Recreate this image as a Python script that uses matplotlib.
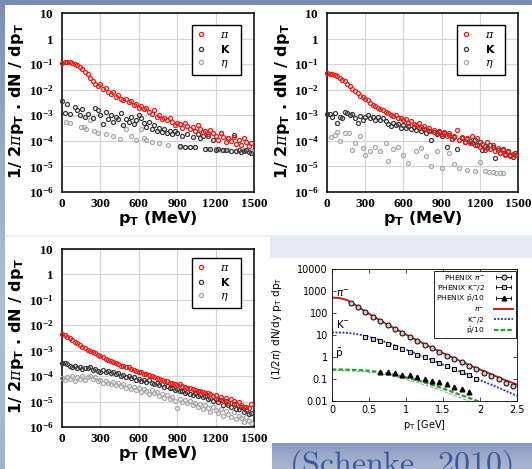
import numpy as np
import matplotlib
matplotlib.use("Agg")
import matplotlib.pyplot as plt
from matplotlib.lines import Line2D
from matplotlib.patches import Rectangle
from matplotlib.colors import LinearSegmentedColormap
from matplotlib.font_manager import FontProperties
from matplotlib.legend_handler import HandlerLine2D
from matplotlib.ticker import LogLocator, NullLocator, NullFormatter

plt.rcParams["mathtext.fontset"] = "custom"
plt.rcParams["mathtext.rm"] = "Liberation Serif:bold"
plt.rcParams["mathtext.sf"] = "DejaVu Sans:bold"
plt.rcParams["mathtext.bf"] = "DejaVu Sans:bold"
plt.rcParams["mathtext.it"] = "DejaVu Serif:italic"

# ---------------------------------------------------------------- data
# common 20 MeV binning of the simulated spectra
pt_bins = np.arange(0, 1500, 20)

# panel A
a_pi = [0.11, 0.126, 0.126, 0.117, 0.112, 0.10, 0.089, 0.076, 0.063, 0.050,
        0.040, 0.030, 0.022, 0.016, 0.014, 0.016, 0.011, 0.012, 0.0083, 0.0071,
        0.0079, 0.0052, 0.0060, 0.0045, 0.0038, 0.0042, 0.0032, 0.0035, 0.0025, 0.0028,
        0.0020, 0.0024, 0.0017, 0.0020, 0.0013, 0.0011, 0.0016, 8.9e-4, 1.0e-3, 7.1e-4,
        7.9e-4, 6.3e-4, 7.6e-4, 5.6e-4, 4.0e-4, 5.0e-4, 4.5e-4, 3.3e-4, 5.0e-4, 3.8e-4,
        2.8e-4, 3.5e-4, 2.5e-4, 4.0e-4, 3.0e-4, 2.2e-4, 2.4e-4, 1.8e-4, 2.6e-4, 2.0e-4,
        1.6e-4, 1.1e-4, 2.0e-4, 1.4e-4, 8.9e-5, 1.3e-4, 1.0e-4, 1.4e-4, 7.6e-5, 1.1e-4,
        7.1e-5, 1.3e-4, 8.9e-5, 6.3e-5, 7.9e-5]
a_k_pt = [0, 20, 40, 60, 100, 120, 140, 160, 180, 200,
          240, 260, 280, 300, 320, 340, 360, 380, 400, 420,
          440, 460, 480, 500, 520, 540, 560, 580, 600, 620,
          640, 660, 680, 700, 720, 740, 760, 780, 800, 820,
          840, 860, 880, 900, 920, 940, 960, 980, 1000, 1020,
          1040, 1060, 1080, 1100, 1120, 1140, 1160, 1180, 1200, 1220,
          1240, 1260, 1280, 1300, 1320, 1340, 1360, 1380, 1400, 1420,
          1440, 1460, 1480]
a_k = [3.7e-3, 1.26e-3, 2.8e-3, 1.1e-3, 2.1e-3, 1.6e-3, 1.0e-3, 1.8e-3, 8.9e-4, 1.1e-3,
       7.9e-4, 1.9e-3, 1.6e-3, 1.0e-3, 4.5e-4, 1.4e-3, 7.1e-4, 1.0e-3, 5.6e-4, 8.9e-4,
       7.1e-4, 1.26e-3, 4.0e-4, 7.1e-4, 5.6e-4, 8.9e-4, 4.5e-4, 6.3e-4, 1.0e-3, 7.9e-4,
       5.0e-4, 3.5e-4, 5.6e-4, 2.8e-4, 4.0e-4, 2.5e-4, 3.2e-4, 2.2e-4, 2.8e-4, 2.0e-4,
       2.5e-4, 1.8e-4, 2.4e-4, 2.0e-4, 6.3e-5, 1.6e-4, 6.0e-5, 1.9e-4, 5.6e-5, 1.4e-4,
       5.6e-5, 1.8e-4, 1.26e-4, 1.6e-4, 5.0e-5, 1.6e-4, 4.8e-5, 1.1e-4, 4.5e-5, 5.0e-5,
       2.0e-4, 4.2e-5, 4.5e-5, 1.26e-4, 4.0e-5, 1.7e-4, 4.0e-5, 4.5e-5, 3.8e-5, 4.0e-5,
       4.2e-5, 3.8e-5, 3.5e-5]
a_eta_pt = [30, 60, 150, 170, 190, 220, 250, 280, 340, 400,
            450, 500, 540, 580, 620, 640, 660, 700, 760, 830,
            920, 960, 1000, 1040, 1140, 1200, 1240, 1300, 1360, 1420,
            1480]
a_eta = [5.6e-4, 5.0e-4, 3.5e-4, 3.4e-4, 3.0e-4, 6.3e-4, 2.4e-4, 2.0e-4, 1.9e-4, 1.5e-4,
         1.2e-4, 2.8e-4, 1.5e-4, 1.05e-4, 2.8e-4, 1.26e-4, 1.05e-4, 8.9e-5, 7.9e-5, 7.1e-5,
         6.0e-5, 5.6e-5, 6.0e-5, 5.6e-5, 5.0e-5, 4.8e-5, 4.5e-5, 4.5e-5, 4.0e-5, 4.2e-5,
         4.0e-5]

# panel B
b_pi = [4.5e-2, 4.3e-2, 4.2e-2, 3.8e-2, 3.4e-2, 2.8e-2, 2.4e-2, 2.1e-2, 1.7e-2, 1.4e-2,
        1.1e-2, 9.1e-3, 7.6e-3, 5.8e-3, 5.4e-3, 4.2e-3, 4.0e-3, 3.0e-3, 2.6e-3, 2.3e-3,
        1.9e-3, 1.7e-3, 1.6e-3, 1.3e-3, 1.2e-3, 1.05e-3, 9.1e-4, 1.0e-3, 7.6e-4, 7.9e-4,
        6.3e-4, 7.1e-4, 5.2e-4, 5.8e-4, 4.5e-4, 4.2e-4, 4.8e-4, 3.4e-4, 3.8e-4, 2.8e-4,
        3.2e-4, 2.4e-4, 2.6e-4, 2.0e-4, 2.5e-4, 1.8e-4, 2.2e-4, 1.6e-4, 2.0e-4, 1.2e-4,
        1.5e-4, 2.6e-4, 1.1e-4, 1.4e-4, 8.9e-5, 1.26e-4, 7.9e-5, 1.6e-4, 7.1e-5, 1.26e-4,
        5.6e-5, 7.6e-5, 4.5e-5, 8.9e-5, 5.0e-5, 6.6e-5, 4.0e-5, 5.2e-5, 3.5e-5, 4.5e-5,
        2.8e-5, 3.8e-5, 2.5e-5, 3.2e-5, 2.8e-5]
b_k = [1.1e-3, 1.15e-3, 8.9e-4, 1.2e-3, 5.0e-4, 8.9e-4, 7.6e-4, 1.4e-3, 1.2e-3, 1.0e-3,
       1.1e-3, 7.9e-4, 5.0e-4, 9.5e-4, 6.6e-4, 8.3e-4, 1.0e-3, 7.6e-4, 8.9e-4, 6.3e-4,
       8.3e-4, 6.6e-4, 7.6e-4, 6.0e-4, 4.5e-4, 3.8e-4, 5.2e-4, 4.0e-4, 4.5e-4, 3.3e-4,
       4.2e-4, 3.2e-4, 3.8e-4, 2.8e-4, 3.5e-4, 2.6e-4, 3.2e-4, 2.4e-4, 2.8e-4, 2.1e-4,
       2.5e-4, 1.1e-4, 2.2e-4, 1.9e-4, 2.2e-4, 1.6e-4, 2.0e-4, 5.6e-5, 1.7e-4, 1.2e-4,
       1.4e-4, 5.0e-5, 1.1e-4, 1.3e-4, 8.9e-5, 1.2e-4, 1.0e-4, 7.9e-5, 1.05e-4, 7.1e-5,
       8.9e-5, 4.5e-5, 6.3e-5, 5.2e-5, 7.1e-5, 5.6e-5, 2.2e-5, 4.5e-5, 3.5e-5, 5.0e-5,
       3.2e-5, 4.0e-5, 2.8e-5, 2.4e-5, 3.5e-5]
b_eta_pt = [30, 60, 80, 100, 140, 170, 200, 220, 260, 280,
            300, 340, 380, 420, 460, 480, 520, 560, 600, 640,
            700, 740, 780, 820, 860, 900, 960, 1000, 1040, 1100,
            1160, 1200, 1240, 1270, 1300, 1330, 1360, 1380]
b_eta = [1.4e-4, 1.7e-4, 2.3e-4, 9.5e-5, 2.0e-4, 2.0e-4, 4.5e-5, 8.3e-5, 1.5e-4, 5.2e-5,
         2.9e-5, 3.9e-5, 6.0e-5, 3.9e-5, 8.3e-5, 1.6e-5, 5.0e-5, 6.0e-5, 2.9e-5, 1.35e-5,
         3.9e-5, 5.2e-5, 2.5e-5, 1.0e-5, 3.9e-5, 8.7e-6, 3.3e-5, 1.2e-5, 8.7e-6, 7.4e-6,
         6.5e-6, 1.45e-5, 6.5e-6, 5.9e-6, 5.9e-6, 5.5e-6, 5.5e-6, 5.5e-6]

# panel C
c_pi = [4.5e-3, 4.0e-3, 3.6e-3, 3.2e-3, 2.7e-3, 2.3e-3, 2.0e-3, 1.7e-3, 1.45e-3, 1.26e-3,
        1.1e-3, 1.0e-3, 8.7e-4, 7.9e-4, 6.6e-4, 6.0e-4, 5.5e-4, 4.7e-4, 4.3e-4, 3.8e-4,
        3.5e-4, 3.2e-4, 3.0e-4, 2.6e-4, 2.5e-4, 2.3e-4, 2.2e-4, 1.9e-4, 1.8e-4, 1.6e-4,
        1.5e-4, 1.4e-4, 1.26e-4, 1.2e-4, 1.07e-4, 1.0e-4, 8.9e-5, 8.7e-5, 7.6e-5, 7.1e-5,
        6.3e-5, 6.6e-5, 5.6e-5, 5.2e-5, 5.0e-5, 4.5e-5, 4.8e-5, 4.0e-5, 3.8e-5, 3.5e-5,
        3.3e-5, 3.2e-5, 2.8e-5, 2.6e-5, 2.5e-5, 2.3e-5, 2.1e-5, 2.2e-5, 1.9e-5, 1.66e-5,
        1.8e-5, 1.26e-5, 1.5e-5, 1.1e-5, 1.4e-5, 8.9e-6, 1.26e-5, 1.1e-5, 7.9e-6, 1.0e-5,
        7.6e-6, 6.3e-6, 6.0e-6, 5.6e-6, 7.9e-6]
c_k = [3.2e-4, 3.3e-4, 3.0e-4, 2.6e-4, 2.2e-4, 2.4e-4, 2.0e-4, 2.2e-4, 1.9e-4, 2.1e-4,
       2.0e-4, 2.2e-4, 1.8e-4, 1.9e-4, 1.66e-4, 1.5e-4, 1.74e-4, 1.4e-4, 1.6e-4, 1.3e-4,
       1.45e-4, 1.2e-4, 1.3e-4, 1.05e-4, 1.15e-4, 9.1e-5, 1.05e-4, 8.3e-5, 8.9e-5, 7.1e-5,
       7.9e-5, 6.6e-5, 7.2e-5, 6.0e-5, 6.9e-5, 5.5e-5, 5.0e-5, 5.6e-5, 4.4e-5, 4.8e-5,
       3.8e-5, 4.2e-5, 3.3e-5, 3.5e-5, 2.8e-5, 3.0e-5, 2.5e-5, 2.6e-5, 2.2e-5, 2.4e-5,
       2.0e-5, 1.8e-5, 2.1e-5, 1.6e-5, 1.74e-5, 1.45e-5, 1.66e-5, 1.26e-5, 1.4e-5, 1.1e-5,
       1.3e-5, 1.0e-5, 1.15e-5, 7.6e-6, 1.05e-5, 7.1e-6, 6.3e-6, 7.9e-6, 5.2e-6, 5.0e-6,
       6.0e-6, 4.0e-6, 4.5e-6, 3.2e-6, 3.5e-6]
c_eta = [8.3e-5, 7.1e-5, 9.5e-5, 7.9e-5, 1.05e-4, 6.6e-5, 8.9e-5, 7.6e-5, 1.0e-4, 7.1e-5,
         8.9e-5, 1.05e-4, 7.9e-5, 9.5e-5, 6.3e-5, 7.1e-5, 5.2e-5, 6.6e-5, 5.6e-5, 4.8e-5,
         6.0e-5, 4.5e-5, 5.2e-5, 4.0e-5, 5.0e-5, 3.5e-5, 4.2e-5, 3.2e-5, 3.8e-5, 2.8e-5,
         3.3e-5, 2.4e-5, 3.2e-5, 2.6e-5, 2.0e-5, 2.8e-5, 2.1e-5, 2.4e-5, 1.66e-5, 2.0e-5,
         1.4e-5, 1.8e-5, 1.26e-5, 1.5e-5, 1.1e-5, 5.6e-6, 1.3e-5, 1.0e-5, 1.2e-5, 8.9e-6,
         1.05e-5, 7.6e-6, 8.9e-6, 6.3e-6, 7.9e-6, 5.0e-6, 7.1e-6, 5.6e-6, 4.0e-6, 6.3e-6,
         4.5e-6, 3.5e-6, 5.2e-6, 2.8e-6, 4.2e-6, 3.2e-6, 2.4e-6, 3.8e-6, 2.0e-6, 2.8e-6,
         2.2e-6, 1.6e-6, 2.5e-6, 1.8e-6, 1.4e-6]

species_labels = [r"$\pi$", r"$\mathsf{K}$", r"$\eta$"]
species_colors = ["#f41a14", "#3a3a3a", "#a8a8a8"]
mev_ticks = [0, 300, 600, 900, 1200, 1500]
mev_ticklabels = ["0", "300", "600", "900", "1200", "1500"]
decade_ticks = [1e-6, 1e-5, 1e-4, 1e-3, 1e-2, 1e-1, 1, 10]
decade_ticklabels = [r"$\mathrm{10^{-6}}$", r"$\mathrm{10^{-5}}$", r"$\mathrm{10^{-4}}$",
                     r"$\mathrm{10^{-3}}$", r"$\mathrm{10^{-2}}$", r"$\mathrm{10^{-1}}$",
                     r"$\mathrm{1}$", r"$\mathrm{10}$"]

# PHENIX comparison (GeV)
phx_pi_pt = [0.25, 0.35, 0.45, 0.55, 0.65, 0.75, 0.85, 0.95, 1.05, 1.15, 1.25, 1.35,
             1.45, 1.55, 1.65, 1.75, 1.85, 1.95, 2.05, 2.15, 2.25, 2.35, 2.45]
phx_pi = [300, 197, 113, 69, 44, 29, 18, 12, 7.8, 5.3, 3.5, 2.5,
          1.7, 1.14, 0.80, 0.57, 0.40, 0.28, 0.19, 0.135, 0.098, 0.067, 0.049]
phx_k_pt = [0.45, 0.55, 0.65, 0.75, 0.85, 0.95, 1.05, 1.15, 1.25, 1.35, 1.45, 1.55,
            1.65, 1.75, 1.85, 1.95]
phx_k = [8.5, 6.8, 5.3, 4.0, 2.9, 2.2, 1.65, 1.25, 0.95, 0.72, 0.52, 0.38,
         0.29, 0.21, 0.15, 0.10]
phx_p_pt = [0.65, 0.75, 0.85, 0.95, 1.05, 1.15, 1.25, 1.35, 1.45, 1.55, 1.65, 1.75, 1.85]
phx_p = [0.21, 0.20, 0.186, 0.16, 0.145, 0.125, 0.105, 0.085, 0.072, 0.058, 0.044, 0.034, 0.026]

model_pt = [0.0, 0.1, 0.2, 0.3, 0.4, 0.5, 0.6, 0.7, 0.8, 0.9, 1.0, 1.1, 1.2,
            1.3, 1.4, 1.5, 1.6, 1.7, 1.8, 1.9, 2.0, 2.1, 2.2, 2.3, 2.4, 2.5]
model_pi = [500, 480, 390, 250, 150, 92, 58, 37, 24, 16, 10.5, 7.0, 4.7,
            3.2, 2.2, 1.5, 1.05, 0.74, 0.52, 0.37, 0.27, 0.195, 0.14, 0.10, 0.075, 0.056]
model_k = [13, 13, 12.5, 11.5, 10, 8.2, 6.6, 5.1, 3.9, 2.9, 2.15, 1.6, 1.15,
           0.85, 0.62, 0.45, 0.33, 0.24, 0.17, 0.125, 0.09, 0.065, 0.047, 0.034, 0.024, 0.017]
model_p = [0.27, 0.27, 0.265, 0.26, 0.25, 0.235, 0.215, 0.19, 0.165, 0.14, 0.118, 0.097, 0.078,
           0.062, 0.048, 0.037, 0.028, 0.021, 0.016, 0.012, 0.009, 0.0068, 0.005, 0.0038, 0.0028, 0.002]
model_p_alt = [0.24, 0.24, 0.235, 0.228, 0.218, 0.203, 0.184, 0.161, 0.138, 0.115, 0.095, 0.077, 0.061,
               0.048, 0.037, 0.028, 0.021, 0.0155, 0.0115, 0.0085, 0.0063, 0.0047, 0.0035, 0.0026, 0.0019, 0.0014]
gev_ticks = [0, 0.5, 1, 1.5, 2, 2.5]
gev_ticklabels = ["0", "0.5", "1", "1.5", "2", "2.5"]
yield_ticks = [0.01, 0.1, 1, 10, 100, 1000, 10000]
yield_ticklabels = ["0.01", "0.1", "1", "10", "100", "1000", "10000"]

# ---------------------------------------------------------------- figure
W, H = 532, 469
fig = plt.figure(figsize=(W / 100, H / 100), dpi=100)
fig.patch.set_facecolor("white")


def px_axes(x0, y0, x1, y1, **kw):
    """Axes placed by pixel box, origin at the top-left corner."""
    return fig.add_axes([x0 / W, 1 - y1 / H, (x1 - x0) / W, (y1 - y0) / H], **kw)


# slide background
bg = px_axes(0, 0, W, H, zorder=-10)
bg.axis("off")
side = LinearSegmentedColormap.from_list("side", ["#7d8db4", "#9eabca", "#b3bdd7", "#a6b2cf"])
bg.imshow(np.linspace(0, 1, 256).reshape(-1, 1), cmap=side, aspect="auto",
          extent=(0, 5, H, 0), origin="upper")
band = LinearSegmentedColormap.from_list("band", ["#8696bf", "#9dabcb", "#aab6d2"])
bg.imshow(np.linspace(0, 1, 64).reshape(-1, 1), cmap=band, aspect="auto",
          extent=(272, W, H, 443), origin="upper")
bg.add_patch(Rectangle((0, 0), W, 4.8, color="#7b8cb2", lw=0))
bg.add_patch(Rectangle((5, 235), W - 5, 2.5, color="#eceef4", lw=0))
bg.add_patch(Rectangle((270, 237), W - 270, 21, color="#e6e9f1", lw=0))
bg.set_xlim(0, W)
bg.set_ylim(H, 0)

sans_bold = dict(fontfamily="DejaVu Sans", fontweight="bold")


def spectrum_panel(box, pi_xy, k_xy, eta_xy, leg_box):
    ax = px_axes(*box)
    ax_h = box[3] - box[1]
    ax.set_yscale("log")
    ax.set_xlim(0, 1500)
    ax.set_ylim(1e-6, 10)
    for (x, y), col in zip([eta_xy, k_xy, pi_xy], species_colors[::-1]):
        n = min(len(x), len(y))
        ax.plot(x[:n], y[:n], ls="none", marker="o", ms=2.9, mfc="none",
                mec=col, mew=0.9, clip_on=False, zorder=3)
    ax.set_xticks(mev_ticks)
    ax.set_xticklabels(mev_ticklabels, fontfamily="Liberation Serif",
                       fontweight="bold", fontsize=9.5)
    ax.set_yticks(decade_ticks)
    ax.set_yticklabels(decade_ticklabels, fontsize=9.5)
    ax.yaxis.set_minor_locator(NullLocator())
    ax.yaxis.set_minor_formatter(NullFormatter())
    ax.tick_params(axis="both", length=0)
    ax.tick_params(axis="x", pad=4)
    ax.tick_params(axis="y", pad=6)
    ax.grid(True, color="#d4d4d4", lw=0.8)
    ax.set_axisbelow(True)
    for s in ax.spines.values():
        s.set_linewidth(1.1)
        s.set_color("black")
    handles = [Line2D([], [], ls="none", marker="o", ms=3.0, mfc="none", mec=c, mew=0.9)
               for c in species_colors]
    leg = ax.legend(handles, species_labels, loc="upper left", bbox_to_anchor=leg_box,
                    mode="expand", frameon=True, fancybox=False, framealpha=1,
                    edgecolor="black", fontsize=8, handlelength=0.8, handletextpad=1.3,
                    borderpad=0.45, labelspacing=0.28, borderaxespad=0)
    leg.get_frame().set_linewidth(1.0)
    ax.text(0.5, -26.5 / ax_h, r"$\mathsf{p_T}$ (MeV)", transform=ax.transAxes,
            ha="center", va="center", fontsize=11.5, **sans_bold)
    ax.text(-0.235, 0.51, r"1/ 2$\pi\mathsf{p_T}$ . dN / d$\mathsf{p_T}$",
            transform=ax.transAxes, ha="center", va="center", rotation=90,
            fontsize=11.5, **sans_bold)
    return ax


spectrum_panel((62, 13, 254, 192), (pt_bins, a_pi), (a_k_pt, a_k), (a_eta_pt, a_eta),
               (0.677, 0.933, 0.255, 0.0))
spectrum_panel((327, 13, 518, 192), (pt_bins, b_pi), (pt_bins, b_k), (b_eta_pt, b_eta),
               (0.68, 0.933, 0.252, 0.0))
spectrum_panel((62, 249, 254, 427), (pt_bins, c_pi), (pt_bins, c_k), (pt_bins, c_eta),
               (0.677, 0.95, 0.255, 0.0))

# ---------------------------------------------------------------- PHENIX comparison
ax4 = px_axes(332, 269, 517, 401)
ax4.set_yscale("log")
ax4.set_xlim(0, 2.5)
ax4.set_ylim(0.01, 10000)
l_pi, = ax4.plot(model_pt, model_pi, color="#d41818", lw=1.4, zorder=2)
l_k, = ax4.plot(model_pt, model_k, color="#2a3ae0", lw=1.4, ls=(0, (1, 0.8)), zorder=2)
ax4.plot(model_pt, model_p_alt, color="#8a8a8a", lw=0.6, ls=(0, (4, 2)), zorder=2)
l_p, = ax4.plot(model_pt, model_p, color="#2aa02a", lw=1.6, ls=(0, (2, 1)), zorder=2)
ax4.plot(phx_pi_pt, phx_pi, ls="none", marker="o", ms=3.6, mfc="#c8c8c8", mec="black",
         mew=0.7, zorder=3)
ax4.plot(phx_k_pt, phx_k, ls="none", marker="s", ms=3.3, mfc="#c8c8c8", mec="black",
         mew=0.7, zorder=3)
ax4.plot(phx_p_pt, phx_p, ls="none", marker="^", ms=3.4, color="black", zorder=3)

ax4.set_xticks(gev_ticks)
ax4.set_xticklabels(gev_ticklabels, fontfamily="DejaVu Sans", fontsize=7)
ax4.set_yticks(yield_ticks)
ax4.set_yticklabels(yield_ticklabels, fontfamily="DejaVu Sans", fontsize=7)
ax4.yaxis.set_minor_locator(LogLocator(base=10, subs=np.arange(2, 10)))
ax4.yaxis.set_minor_formatter(NullFormatter())
ax4.tick_params(which="both", direction="in", top=True, right=True, width=0.5)
ax4.tick_params(which="major", length=3, pad=3)
ax4.tick_params(which="minor", length=1.6)
for s in ax4.spines.values():
    s.set_linewidth(0.6)

math_sans = dict(fontfamily="DejaVu Sans", math_fontfamily="dejavusans")
ax4.text(0.06, 800, r"$\pi^{-}$", fontsize=7.5, ha="left", va="center", **math_sans)
ax4.text(0.06, 32, r"$\mathrm{K}^{-}$", fontsize=7.5, ha="left", va="center", **math_sans)
ax4.text(0.045, 1.4, r"$\bar{\mathrm{p}}$", fontsize=7.5, ha="left", va="center", **math_sans)
ax4.text(0.5, -0.18, r"$\mathrm{p_T}$ [GeV]", transform=ax4.transAxes, ha="center",
         va="center", fontsize=7, **math_sans)
ax4.text(-0.3, 0.55, r"(1/2$\pi$) dN/dy $\mathrm{p_T}$ $\mathrm{dp_T}$", transform=ax4.transAxes,
         ha="center", va="center", rotation=90, fontsize=7.6, **math_sans)

caps = [Line2D([], [], color="black", lw=0.6, marker="|", ms=3.5, mew=0.6) for _ in range(3)]
pts = [Line2D([], [], ls="none", marker="o", ms=3.6, mfc="#c8c8c8", mec="black", mew=0.7),
       Line2D([], [], ls="none", marker="s", ms=3.3, mfc="#c8c8c8", mec="black", mew=0.7),
       Line2D([], [], ls="none", marker="^", ms=3.4, color="black")]
leg_handles = [(caps[0], pts[0]), (caps[1], pts[1]), (caps[2], pts[2]), l_pi, l_k, l_p]
leg_labels = [r"PHENIX $\pi^{-}$", r"PHENIX $\mathrm{K}^{-}$/2", r"PHENIX $\bar{\mathrm{p}}$/10",
              r"$\pi^{-}$", r"$\mathrm{K}^{-}$/2", r"$\bar{\mathrm{p}}$/10"]
hmap = {c: HandlerLine2D(numpoints=2) for c in caps}
leg4 = ax4.legend(leg_handles, leg_labels, handler_map=hmap, loc="upper right",
                  bbox_to_anchor=(1.0, 1.0), borderaxespad=0.2, markerfirst=False,
                  numpoints=1, frameon=True, fancybox=False, framealpha=1,
                  edgecolor="black", handlelength=2.6, handletextpad=1.2,
                  borderpad=0.3, labelspacing=0.12,
                  prop=FontProperties(family="DejaVu Sans", size=5.4,
                                      math_fontfamily="dejavusans"))
leg4.get_frame().set_linewidth(0.6)

fig.text(289 / W, (H - 473) / H, r"$\mathrm{(Schenke,\ 2010)}$", ha="left", va="baseline",
         fontsize=23, color="#3b5a9c", math_fontfamily="cm")

fig.savefig("out.png", dpi=100)
